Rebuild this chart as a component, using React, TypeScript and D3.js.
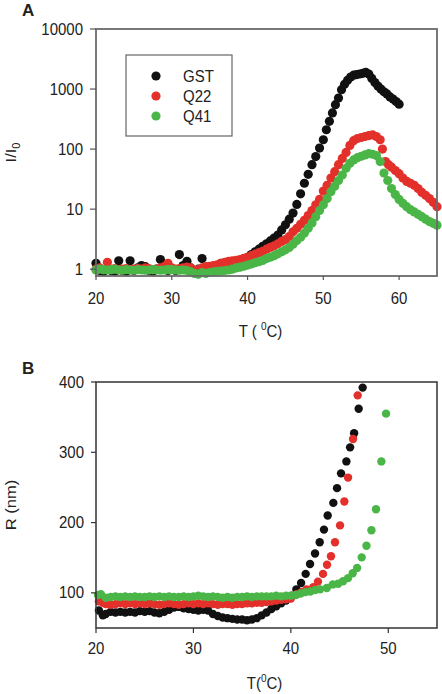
import React from "react";
import * as d3 from "d3";

// Panel A: I/I0 vs T (°C), log scale
const gstA: [number, number][] = [
  [20.0, 1.25], [20.5, 0.95], [21.0, 0.92], [21.5, 1.0], [22.0, 0.95], [22.5, 0.93], [23.0, 1.38], [23.5, 0.95],
  [24.0, 0.92], [24.5, 1.38], [25.0, 0.95], [25.5, 1.05], [26.0, 1.15], [26.5, 1.1], [27.0, 0.95], [27.5, 0.92],
  [28.0, 1.0], [28.5, 1.45], [29.0, 1.2], [29.5, 0.95], [30.0, 1.0], [30.5, 0.95], [31.0, 1.75], [31.5, 1.15],
  [32.0, 1.35], [32.5, 1.05], [33.0, 0.95], [33.5, 1.0], [34.0, 1.5], [34.5, 1.0], [35.0, 0.95], [35.5, 1.05],
  [36.0, 1.1], [36.5, 1.25], [37.0, 1.2], [37.5, 1.15], [38.0, 1.22], [38.5, 1.3], [39.0, 1.38], [39.5, 1.45],
  [40.0, 1.58], [40.5, 1.75], [41.0, 1.95], [41.5, 2.15], [42.0, 2.4], [42.5, 2.65], [43.0, 2.95], [43.5, 3.3],
  [44.0, 3.7], [44.5, 4.5], [45.0, 5.5], [45.5, 6.8], [46.0, 8.6], [46.5, 12], [47.0, 18], [47.5, 27],
  [48.0, 38], [48.5, 55], [49.0, 75], [49.5, 104], [50.0, 143], [50.4, 210], [50.8, 290], [51.2, 400],
  [51.6, 550], [52.0, 710], [52.4, 975], [52.8, 1200], [53.2, 1400], [53.6, 1580], [54.0, 1700], [54.4, 1740],
  [54.8, 1780], [55.2, 1830], [55.6, 1900], [56.0, 1780], [56.4, 1500], [56.8, 1280], [57.2, 1120], [57.6, 1000],
  [58.0, 900], [58.4, 830], [58.8, 740], [59.2, 680], [59.6, 620], [60.0, 560],
];

const q22A: [number, number][] = [
  [20.0, 1.0], [20.5, 1.05], [21.0, 0.98], [21.5, 1.3], [22.0, 1.0], [22.5, 1.02], [23.0, 0.98], [23.5, 1.0],
  [24.0, 1.02], [24.5, 0.98], [25.0, 1.0], [25.5, 1.03], [26.0, 1.0], [26.5, 1.05], [27.0, 1.02], [27.5, 0.98],
  [28.0, 1.0], [28.5, 1.05], [29.0, 1.1], [29.5, 1.25], [30.0, 1.05], [30.5, 1.0], [31.0, 1.02], [31.5, 1.05],
  [32.0, 1.08], [32.5, 1.05], [33.0, 0.95], [33.5, 0.98], [34.0, 1.05], [34.5, 1.1], [35.0, 1.12], [35.5, 1.15],
  [36.0, 1.18], [36.5, 1.25], [37.0, 1.3], [37.5, 1.35], [38.0, 1.38], [38.5, 1.4], [39.0, 1.45], [39.5, 1.52],
  [40.0, 1.58], [40.5, 1.68], [41.0, 1.78], [41.5, 1.88], [42.0, 1.98], [42.5, 2.15], [43.0, 2.3], [43.5, 2.45],
  [44.0, 2.65], [44.5, 2.9], [45.0, 3.1], [45.5, 3.5], [46.0, 4.2], [46.5, 4.8], [47.0, 5.6], [47.5, 6.5],
  [48.0, 7.8], [48.5, 9.5], [49.0, 11.8], [49.5, 14.5], [50.0, 20], [50.5, 25], [51.0, 33], [51.5, 42],
  [52.0, 55], [52.5, 70], [53.0, 88], [53.5, 115], [54.0, 138], [54.5, 150], [55.0, 156], [55.5, 162],
  [56.0, 168], [56.5, 172], [57.0, 162], [57.5, 143], [57.8, 100], [58.2, 62], [58.6, 55], [59.0, 50],
  [59.5, 44], [60.0, 39], [60.5, 33], [61.0, 29], [61.5, 27], [62.0, 25], [62.5, 22], [63.0, 19],
  [63.5, 17], [64.0, 15], [64.5, 13], [65.0, 11],
];

const q41A: [number, number][] = [
  [20.0, 0.97], [20.5, 1.0], [21.0, 0.98], [21.5, 0.97], [22.0, 0.98], [22.5, 1.0], [23.0, 0.97], [23.5, 0.96],
  [24.0, 0.98], [24.5, 0.97], [25.0, 0.96], [25.5, 0.98], [26.0, 0.97], [26.5, 0.96], [27.0, 0.97], [27.5, 0.98],
  [28.0, 0.97], [28.5, 0.96], [29.0, 0.97], [29.5, 0.98], [30.0, 0.98], [30.5, 0.97], [31.0, 0.96], [31.5, 0.97],
  [32.0, 0.95], [32.5, 0.9], [33.0, 0.85], [33.5, 0.82], [34.0, 0.88], [34.5, 0.85], [35.0, 0.88], [35.5, 0.9],
  [36.0, 0.92], [36.5, 0.93], [37.0, 0.95], [37.5, 0.97], [38.0, 1.0], [38.5, 1.05], [39.0, 1.08], [39.5, 1.12],
  [40.0, 1.17], [40.5, 1.22], [41.0, 1.28], [41.5, 1.33], [42.0, 1.4], [42.5, 1.5], [43.0, 1.58], [43.5, 1.68],
  [44.0, 1.8], [44.5, 1.95], [45.0, 2.1], [45.5, 2.3], [46.0, 2.6], [46.5, 3.0], [47.0, 3.4], [47.5, 4.0],
  [48.0, 4.8], [48.5, 5.9], [49.0, 7.5], [49.5, 9.5], [50.0, 11.8], [50.5, 15], [51.0, 19.5], [51.5, 24],
  [52.0, 30], [52.5, 37], [53.0, 48], [53.5, 58], [54.0, 66], [54.5, 72], [55.0, 76], [55.5, 80],
  [56.0, 84], [56.5, 82], [57.0, 78], [57.5, 62], [58.0, 40], [58.5, 30], [59.0, 22], [59.5, 17.5],
  [60.0, 14.5], [60.5, 12.5], [61.0, 11], [61.5, 9.8], [62.0, 9], [62.5, 8.2], [63.0, 7.5], [63.5, 6.8],
  [64.0, 6.2], [64.5, 5.8], [65.0, 5.4],
];

// Panel B: R (nm) vs T (°C)
const gstB: [number, number][] = [
  [20.3, 75], [20.7, 68], [21.0, 70], [21.5, 73], [22.0, 72], [22.5, 73], [23.0, 72], [23.5, 73],
  [24.0, 72], [24.5, 74], [25.0, 73], [25.5, 74], [26.0, 72], [26.5, 71], [27.0, 73], [27.5, 76],
  [28.0, 79], [28.5, 80], [29.0, 78], [29.5, 77], [30.0, 76], [30.5, 75], [31.0, 76], [31.5, 75],
  [32.0, 70], [32.5, 67], [33.0, 65], [33.5, 64], [34.0, 63], [34.5, 62], [35.0, 62], [35.5, 61],
  [36.0, 62], [36.5, 64], [37.0, 68], [37.5, 72], [38.0, 77], [38.5, 81], [39.0, 85], [39.5, 89],
  [40.1, 96], [40.57, 105], [41.05, 114], [41.52, 127], [41.97, 141], [42.48, 156], [42.96, 172], [43.4, 190],
  [43.78, 210], [44.36, 228], [44.74, 249], [45.15, 270], [45.7, 287], [46.08, 307], [46.49, 327], [46.96, 362],
  [47.37, 392],
];

const q22B: [number, number][] = [
  [20.3, 88], [20.7, 86], [21.0, 84], [21.5, 83], [22.0, 84], [22.5, 85], [23.0, 84], [23.5, 85],
  [24.0, 84], [24.5, 85], [25.0, 84], [25.5, 85], [26.0, 84], [26.5, 83], [27.0, 84], [27.5, 85],
  [28.0, 84], [28.5, 83], [29.0, 84], [29.5, 85], [30.0, 84], [30.5, 85], [31.0, 84], [31.5, 85],
  [32.0, 84], [32.5, 83], [33.0, 84], [33.5, 84], [34.0, 83], [34.5, 84], [35.0, 84], [35.5, 85],
  [36.0, 85], [36.5, 86], [37.0, 86], [37.5, 87], [38.0, 88], [38.5, 89], [39.0, 90], [39.5, 91],
  [40.0, 92], [40.6, 98], [41.1, 101], [41.6, 105], [42.3, 108], [42.78, 116], [43.3, 127], [43.71, 140],
  [44.12, 152], [44.53, 172], [45.05, 196], [45.49, 230], [45.87, 264], [46.38, 319], [46.86, 381],
];

const q41B: [number, number][] = [
  [20.2, 97], [20.5, 98], [21.0, 93], [21.5, 94], [22.0, 95], [22.5, 94], [23.0, 95], [23.5, 94],
  [24.0, 95], [24.5, 94], [25.0, 94], [25.5, 95], [26.0, 94], [26.5, 95], [27.0, 94], [27.5, 95],
  [28.0, 94], [28.5, 94], [29.0, 95], [29.5, 94], [30.0, 95], [30.5, 96], [31.0, 95], [31.5, 94],
  [32.0, 95], [32.5, 94], [33.0, 93], [33.5, 94], [34.0, 93], [34.5, 94], [35.0, 94], [35.5, 95],
  [36.0, 94], [36.5, 95], [37.0, 95], [37.5, 95], [38.0, 95], [38.5, 96], [39.0, 95], [39.5, 96],
  [40.0, 96], [40.5, 97], [41.0, 99], [41.5, 101], [42.0, 102], [42.5, 104], [43.0, 105], [43.69, 107],
  [44.3, 112], [44.85, 113], [45.36, 116.5], [45.87, 121], [46.35, 128], [46.8, 135.5], [47.27, 150.5], [47.76, 167],
  [48.27, 189], [48.74, 219], [49.29, 287], [49.77, 355],
];

const seriesNames = ["GST", "Q22", "Q41"];
const seriesColors = ["#111111", "#e3302a", "#4bb648"];
const ticksAX = [20, 30, 40, 50, 60];
const ticksAY = [1, 10, 100, 1000, 10000];
const ticksBX = [20, 30, 40, 50];
const ticksBY = [100, 200, 300, 400];

const FONT = "'Liberation Sans', Arial, sans-serif";
const TXT = "#222";

export default function App() {
  // Panel A scales
  const axL = 96, axR = 437, ayT = 29, ayB = 276;
  const xA = d3.scaleLinear().domain([20, 65]).range([axL, axR]);
  const yA = d3.scaleLog().domain([0.77, 10000]).range([ayB, ayT]);
  // Panel B scales
  const bxL = 96, bxR = 437, byT = 382, byB = 628;
  const xB = d3.scaleLinear().domain([20, 55]).range([bxL, bxR]);
  const yB = d3.scaleLinear().domain([50, 400]).range([byB, byT]);

  const dataA = [gstA, q22A, q41A];
  const dataB = [gstB, q22B, q41B];
  const sy = 1.1;
  const label = (x: number, y: number, t: string, anchor: string, key: string) => (
    <text key={key} transform={`translate(${x},${y}) scale(1,${sy})`} textAnchor={anchor}
      fontSize={15} fill={TXT} fontFamily={FONT}>{t}</text>
  );

  return (
    <svg width={442} height={694} style={{ position: "absolute", left: 0, top: 0, background: "#fff" }}>
      <rect x={0} y={0} width={442} height={694} fill="#fff" />
      {/* Panel A */}
      <text x={22} y={16} fontSize={17} fontWeight="bold" fontFamily={FONT} fill={TXT}>A</text>
      {dataA.map((d, i) => (
        <g key={"a" + i}>
          {d.map((p, j) => (
            <circle key={j} cx={xA(p[0])} cy={yA(p[1])} r={4.6} fill={seriesColors[i]} />
          ))}
        </g>
      ))}
      <rect x={axL} y={ayT} width={axR - axL} height={ayB - ayT} fill="none" stroke="#6a6a6a" strokeWidth={1.8} />
      {ticksAY.map((t) => (
        <g key={"ay" + t}>
          <line x1={axL - 6} x2={axL} y1={yA(t)} y2={yA(t)} stroke="#555" strokeWidth={1.2} />
          {label(axL - 13, yA(t) + 5.5, String(t), "end", "ayl" + t)}
        </g>
      ))}
      {ticksAX.map((t) => (
        <g key={"ax" + t}>
          <line x1={xA(t)} x2={xA(t)} y1={ayB} y2={ayB + 4} stroke="#555" strokeWidth={1.2} />
          {label(xA(t), ayB + 28, String(t), "middle", "axl" + t)}
        </g>
      ))}
      <text transform={`translate(${(axL + axR) / 2 - 6},337) scale(1,${sy})`} textAnchor="middle" fontSize={15} fill={TXT} fontFamily={FONT}>
        {"T ( "}<tspan dy={-6} fontSize={10}>0</tspan><tspan dy={6}>C)</tspan>
      </text>
      <text transform={`translate(16,${(ayT + ayB) / 2}) rotate(-90) scale(${sy},1)`} textAnchor="middle" fontSize={15} fill={TXT} fontFamily={FONT}>
        I/I<tspan dy={4} fontSize={10}>0</tspan>
      </text>
      {/* Legend */}
      <rect x={126} y={55} width={106} height={81} fill="#fff" stroke="#666" strokeWidth={1.2} />
      {seriesNames.map((n, i) => (
        <g key={"lg" + n}>
          <circle cx={156} cy={76 + i * 20} r={4.6} fill={seriesColors[i]} />
          {label(183, 76 + i * 20 + 5.5, n, "start", "lgt" + n)}
        </g>
      ))}

      {/* Panel B */}
      <text x={22} y={374} fontSize={17} fontWeight="bold" fontFamily={FONT} fill={TXT}>B</text>
      {dataB.map((d, i) => (
        <g key={"b" + i}>
          {d.map((p, j) => (
            <circle key={j} cx={xB(p[0])} cy={yB(p[1])} r={4.2} fill={seriesColors[i]} />
          ))}
        </g>
      ))}
      <rect x={bxL} y={byT} width={bxR - bxL} height={byB - byT} fill="none" stroke="#333" strokeWidth={1.5} />
      {ticksBY.map((t) => (
        <g key={"by" + t}>
          <line x1={bxL - 5} x2={bxL} y1={yB(t)} y2={yB(t)} stroke="#333" strokeWidth={1.2} />
          {label(bxL - 12, yB(t) + 5.5, String(t), "end", "byl" + t)}
        </g>
      ))}
      {ticksBX.map((t) => (
        <g key={"bx" + t}>
          <line x1={xB(t)} x2={xB(t)} y1={byB} y2={byB + 5} stroke="#333" strokeWidth={1.2} />
          {label(xB(t), byB + 26, String(t), "middle", "bxl" + t)}
        </g>
      ))}
      <text transform={`translate(${(bxL + bxR) / 2 - 2},689) scale(1,${sy})`} textAnchor="middle" fontSize={15} fill={TXT} fontFamily={FONT}>
        T(<tspan dy={-6} fontSize={10}>0</tspan><tspan dy={6}>C)</tspan>
      </text>
      <text transform={`translate(16,${(byT + byB) / 2}) rotate(-90) scale(${sy},1)`} textAnchor="middle" fontSize={15} fill={TXT} fontFamily={FONT}>
        R (nm)
      </text>
    </svg>
  );
}
